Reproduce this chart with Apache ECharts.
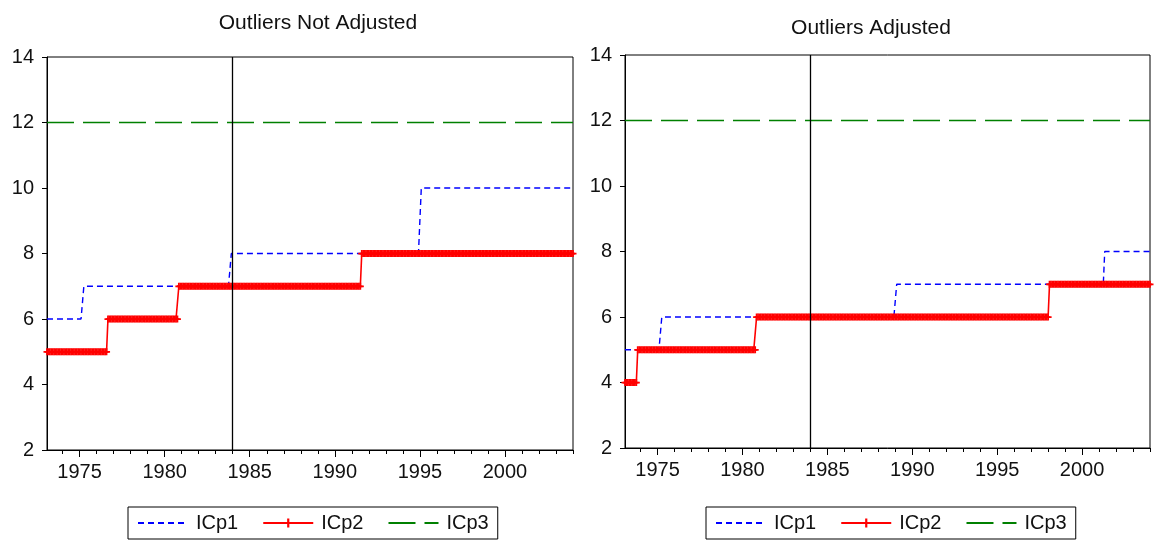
<!DOCTYPE html>
<html>
<head>
<meta charset="utf-8">
<script src="https://cdn.jsdelivr.net/npm/echarts@6/dist/echarts.min.js"></script>
<style>
  html, body { margin: 0; padding: 0; background: #fff; }
  #chart { width: 1157px; height: 542px; }
</style>
</head>
<body>
<div id="chart"></div>
<script>
// Monthly sample, 1973M2 .. 2004M1
const SAMPLE_START = [1973, 2];
const SAMPLE_END = [2004, 1];

// Selected number of factors as level runs: [value, first year, first month]
const leftICp1 = [[6, 1973, 2], [7, 1975, 4], [8, 1983, 12], [10, 1995, 2]];
const leftICp2 = [[5, 1973, 2], [6, 1976, 9], [7, 1980, 11], [8, 1991, 8]];
const leftICp3 = [[12, 1973, 2]];
const rightICp1 = [[5, 1973, 2], [6, 1975, 4], [7, 1989, 2], [8, 2001, 5]];
const rightICp2 = [[4, 1973, 2], [5, 1973, 11], [6, 1980, 11], [7, 1998, 2]];
const rightICp3 = [[12, 1973, 2]];

// Sample break marked on both panels
const breakDate = 1984;

const panelTitles = ['Outliers Not Adjusted', 'Outliers Adjusted'];
const seriesNames = ['ICp1', 'ICp2', 'ICp3'];
const xLabelYears = [1975, 1980, 1985, 1990, 1995, 2000];
const xTickYears = [1974, 1975, 1976, 1977, 1978, 1979, 1980, 1981, 1982, 1983, 1984,
  1985, 1986, 1987, 1988, 1989, 1990, 1991, 1992, 1993, 1994, 1995, 1996, 1997, 1998,
  1999, 2000, 2001, 2002, 2003, 2004];

const FONT = "'Liberation Sans', Arial, Helvetica, sans-serif";

function monthPos(y, m) { return y + (m - 1) / 12; }

// Turn level runs into one observation per month
function expandRuns(runs) {
  const out = [];
  let y = SAMPLE_START[0], m = SAMPLE_START[1];
  const endKey = SAMPLE_END[0] * 12 + SAMPLE_END[1];
  while (y * 12 + m <= endKey) {
    const key = y * 12 + m;
    let v = runs[0][0];
    for (const r of runs) if (r[1] * 12 + r[2] <= key) v = r[0];
    out.push([monthPos(y, m), v]);
    m++; if (m > 12) { m = 1; y++; }
  }
  return out;
}

const xMin = monthPos(SAMPLE_START[0], SAMPLE_START[1]);
const xMax = monthPos(SAMPLE_END[0], SAMPLE_END[1]);

const plusPath = 'path://M3,0 H5 V3 H8 V5 H5 V8 H3 V5 H0 V3 H3 Z';

const grids = [
  { left: 47, top: 57, width: 526, height: 393 },
  { left: 625, top: 55, width: 525, height: 393 }
];

function makeXAxes(gi) {
  return [
    {
      type: 'value', gridIndex: gi, position: 'bottom', min: xMin, max: xMax,
      axisLine: { show: true, lineStyle: { color: '#000', width: 1 } },
      axisTick: { show: true, inside: false, length: 7, customValues: xLabelYears, lineStyle: { color: '#000' } },
      axisLabel: { show: true, customValues: xLabelYears, margin: 12, fontSize: 20, color: '#111', fontFamily: FONT, formatter: v => String(v) },
      splitLine: { show: false }
    },
    {
      type: 'value', gridIndex: gi, position: 'bottom', min: xMin, max: xMax,
      axisLine: { show: false },
      axisTick: { show: true, inside: false, length: 4, customValues: xTickYears, lineStyle: { color: '#000' } },
      axisLabel: { show: false },
      splitLine: { show: false }
    }
  ];
}

function makeYAxis(gi) {
  return {
    type: 'value', gridIndex: gi, min: 2, max: 14, interval: 2,
    axisLine: { show: true, lineStyle: { color: '#000', width: 1 } },
    axisTick: { show: true, inside: false, length: 5, lineStyle: { color: '#000' } },
    axisLabel: { show: true, margin: 13, fontSize: 20, color: '#111', fontFamily: FONT },
    splitLine: { show: false }
  };
}

function makeSeries(gi, runs1, runs2, runs3) {
  const xi = gi * 2;
  return [
    {
      name: seriesNames[0], type: 'line', xAxisIndex: xi, yAxisIndex: gi,
      data: expandRuns(runs1), showSymbol: false, symbol: 'none',
      lineStyle: { color: '#0000ff', width: 1.4, type: [6, 4] },
      itemStyle: { color: '#0000ff' }, z: 3, animation: false,
      markLine: {
        silent: true, symbol: ['none', 'none'], label: { show: false },
        lineStyle: { color: '#000', width: 1.3, type: 'solid' },
        emphasis: { disabled: true },
        data: [{ xAxis: breakDate }]
      }
    },
    {
      name: seriesNames[1], type: 'line', xAxisIndex: xi, yAxisIndex: gi,
      data: expandRuns(runs2), showSymbol: true, symbol: plusPath, symbolSize: 7,
      lineStyle: { color: '#ff0000', width: 1.6 },
      itemStyle: { color: '#ff0000' }, z: 4, animation: false
    },
    {
      name: seriesNames[2], type: 'line', xAxisIndex: xi, yAxisIndex: gi,
      data: expandRuns(runs3), showSymbol: false, symbol: 'none',
      lineStyle: { color: '#008000', width: 1.4, type: [27, 9] },
      itemStyle: { color: '#008000' }, z: 2, animation: false
    }
  ];
}

function makeLegend(left, top) {
  return {
    left: left, top: top, orient: 'horizontal',
    data: [
      { name: seriesNames[0], itemStyle: { opacity: 0 } },
      { name: seriesNames[1] },
      { name: seriesNames[2], itemStyle: { opacity: 0 } }
    ],
    borderColor: '#000', borderWidth: 1, padding: [6, 9, 6, 9],
    itemWidth: 50, itemHeight: 11, itemGap: 24,
    textStyle: { fontSize: 20, color: '#111', fontFamily: FONT, padding: [0, 0, 0, 3] },
    selectedMode: false
  };
}

const chart = echarts.init(document.getElementById('chart'), null, { renderer: 'canvas' });
chart.setOption({
  backgroundColor: '#fff',
  animation: false,
  title: [
    { text: panelTitles[0], left: 313, top: 8, textAlign: 'center',
      textStyle: { fontSize: 21, fontWeight: 'normal', color: '#111', fontFamily: FONT } },
    { text: panelTitles[1], left: 866, top: 13, textAlign: 'center',
      textStyle: { fontSize: 21, fontWeight: 'normal', color: '#111', fontFamily: FONT } }
  ],
  grid: grids.map(g => Object.assign({ show: true, borderColor: '#000', borderWidth: 1, backgroundColor: 'transparent' }, g)),
  xAxis: [...makeXAxes(0), ...makeXAxes(1)],
  yAxis: [makeYAxis(0), makeYAxis(1)],
  legend: [makeLegend(128, 507), makeLegend(706, 507)],
  series: [
    ...makeSeries(0, leftICp1, leftICp2, leftICp3),
    ...makeSeries(1, rightICp1, rightICp2, rightICp3)
  ]
});
</script>
</body>
</html>
